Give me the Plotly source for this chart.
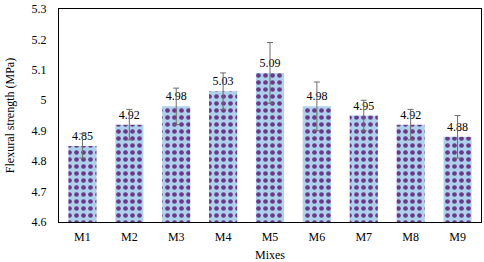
import plotly.graph_objects as go

mixes = ["M1", "M2", "M3", "M4", "M5", "M6", "M7", "M8", "M9"]
strength = [4.85, 4.92, 4.98, 5.03, 5.09, 4.98, 4.95, 4.92, 4.88]
errors = [0.04, 0.05, 0.06, 0.06, 0.10, 0.08, 0.05, 0.05, 0.07]
y_ticks = [4.6, 4.7, 4.8, 4.9, 5.0, 5.1, 5.2, 5.3]
y_tick_text = ["4.6", "4.7", "4.8", "4.9", "5", "5.1", "5.2", "5.3"]

font = "Liberation Serif"

fig = go.Figure()
fig.add_trace(go.Bar(
    x=mixes, y=strength,
    width=0.6,
    text=[f"{v:.2f}" for v in strength],
    textposition="outside",
    cliponaxis=False,
    textfont=dict(family=font, size=12, color="black"),
    marker=dict(
        color="#aed2ee",
        line=dict(width=0),
        pattern=dict(shape=".", bgcolor="#aed2ee", fgcolor="#6a3a86",
                     fgopacity=1, size=7, solidity=0.36),
    ),
    error_y=dict(type="data", array=errors, visible=True,
                 color="#6e6e6e", thickness=1, width=3),
))

fig.update_layout(
    width=484, height=262,
    margin=dict(l=59, r=2, t=4, b=38),
    paper_bgcolor="white", plot_bgcolor="white",
    font=dict(family=font, size=12, color="black"),
    showlegend=False,
)
fig.update_yaxes(
    range=[4.6, 5.3], tickvals=y_ticks, ticktext=y_tick_text,
    showgrid=False, zeroline=False,
    showline=True, linecolor="black", linewidth=1, mirror=True,
    ticks="outside", ticklen=9, tickcolor="rgba(0,0,0,0)",
    ticklabeloverflow="allow",
    title=dict(text="Flexural strength (MPa)", standoff=14,
               font=dict(family=font, size=12)),
)
fig.update_xaxes(
    showgrid=False, zeroline=False,
    showline=True, linecolor="black", linewidth=1, mirror=True,
    ticks="outside", ticklen=4, tickcolor="rgba(0,0,0,0)",
    title=dict(text="Mixes", standoff=7, font=dict(family=font, size=12)),
)

fig.write_html("out.html", config={"displayModeBar": False},
               post_script="document.body.style.margin='0';")
